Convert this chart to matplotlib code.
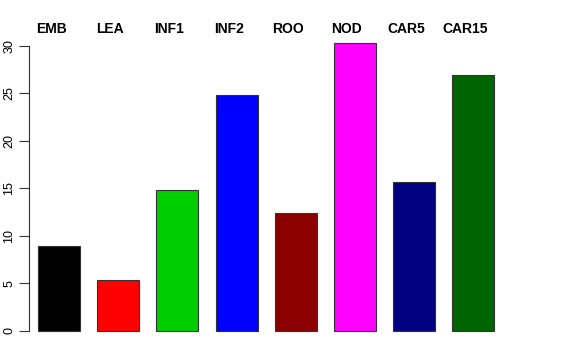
import matplotlib
matplotlib.use('Agg')
import matplotlib.pyplot as plt
import numpy as np

labels = ['EMB', 'LEA', 'INF1', 'INF2', 'ROO', 'NOD', 'CAR5', 'CAR15']
values = [8.9, 5.4, 14.8, 24.85, 12.45, 30.3, 15.7, 26.95]
colors = ['#000000', '#FF0000', '#00CD00', '#0000FF', '#8B0000',
          '#FF00FF', '#000080', '#006400']

plt.rcParams['font.family'] = ['Liberation Sans', 'DejaVu Sans']

fig = plt.figure(figsize=(5.76, 3.6), dpi=100)
# axes placed in pixel terms: left 29, bottom 342.4, top 34
ax = fig.add_axes([29 / 576, (360 - 342.4) / 360, (545 - 29) / 576,
                   (342.4 - 34) / 360])

x = np.arange(len(values))
ax.bar(x, values, width=0.71, color=colors, edgecolor='#333333',
       linewidth=0.8)

ax.set_xlim(-0.507, 8.21)
ax.set_ylim(-1.2, 31.26)

for s in ['top', 'right', 'bottom']:
    ax.spines[s].set_visible(False)
ax.spines['left'].set_bounds(0, 30)
ax.spines['left'].set_color('#333333')
ax.set_xticks([])
ax.set_yticks([0, 5, 10, 15, 20, 25, 30])
ax.tick_params(axis='y', length=7, width=0.8, color='#333333',
               labelsize=9, labelrotation=90, pad=3)
for t in ax.get_yticklabels():
    t.set_va('center')

for i, lab in enumerate(labels):
    ax.text(i - 0.135, 31.1, lab, ha='center', va='bottom',
            fontsize=10, fontweight='bold')

fig.savefig('out.png', dpi=100)
